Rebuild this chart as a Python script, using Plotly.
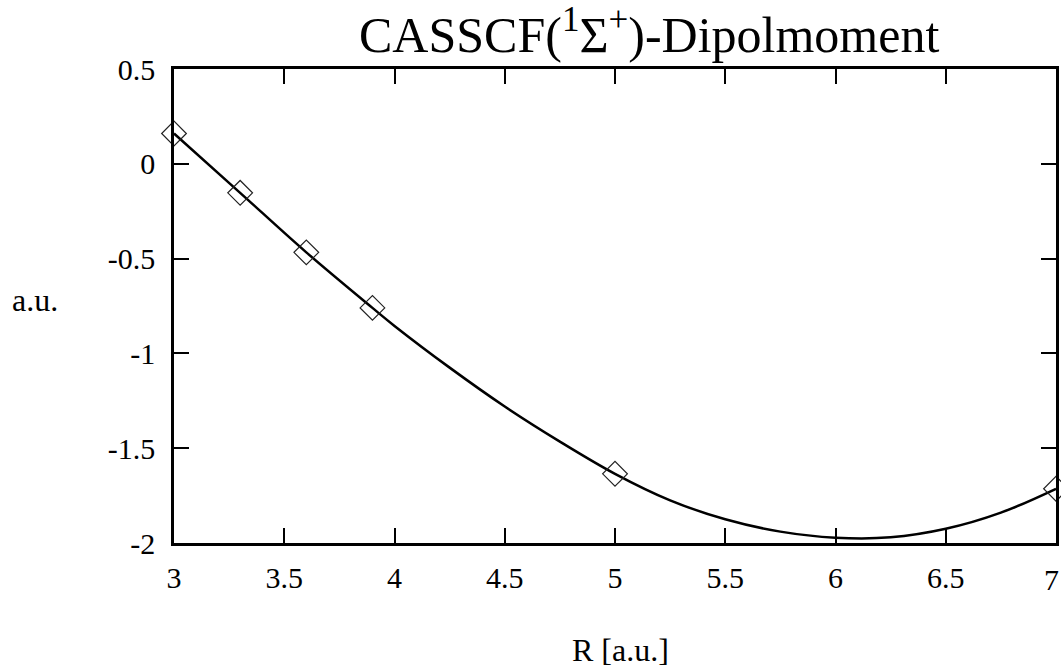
import plotly.graph_objects as go

# Data points (computed values)
r_points = [3.0, 3.3, 3.6, 3.9, 5.0, 7.0]
dip_points = [0.16, -0.153, -0.467, -0.76, -1.635, -1.714]

# Smooth fit curve
r_curve = [3.0, 3.3, 3.6, 3.9, 4.0, 4.25, 4.5, 4.75, 5.0, 5.25, 5.5, 5.75,
           6.0, 6.25, 6.5, 6.75, 7.0]
dip_curve = [0.16, -0.153, -0.467, -0.76, -0.855, -1.075, -1.28, -1.465, -1.635,
             -1.775, -1.875, -1.94, -1.972, -1.97, -1.925, -1.84, -1.714]

x_ticks = [3, 3.5, 4, 4.5, 5, 5.5, 6, 6.5, 7]
x_tick_text = ["3", "3.5", "4", "4.5", "5", "5.5", "6", "6.5", "7"]
y_ticks = [0.5, 0, -0.5, -1, -1.5, -2]
y_tick_text = ["0.5", "0", "-0.5", "-1", "-1.5", "-2"]

FONT = "Liberation Serif"

fig = go.Figure()
fig.add_trace(go.Scatter(
    x=r_curve, y=dip_curve, mode="lines",
    line=dict(color="black", width=2.5, shape="spline", smoothing=1.0),
    showlegend=False, hoverinfo="skip",
))
fig.add_trace(go.Scatter(
    x=r_points, y=dip_points, mode="markers",
    marker=dict(symbol="diamond-open", size=19, color="#222222",
                line=dict(width=1.2, color="#222222")),
    showlegend=False, cliponaxis=False,
))

axis_common = dict(
    showgrid=False, zeroline=False, showline=True, linecolor="black",
    linewidth=2.5, mirror="ticks", ticks="inside", ticklen=15, tickwidth=2,
    tickcolor="black", tickfont=dict(family=FONT, size=30, color="black"),
)

# all but the last x label through the axis; last one (at the page edge) as annotation
fig.update_xaxes(range=[3, 7], tickvals=x_ticks[:-1], ticktext=x_tick_text[:-1],
                 ticklabelstandoff=6, **axis_common)
fig.update_yaxes(range=[-2, 0.5], tickvals=y_ticks, ticktext=y_tick_text,
                 ticklabelstandoff=10, **axis_common)

annotations = [
    dict(text=x_tick_text[-1], xref="x", yref="paper", x=x_ticks[-1], y=0,
         xanchor="center", yanchor="top", yshift=-18, xshift=-5, showarrow=False,
         font=dict(family=FONT, size=30, color="black")),
    dict(text="CASSCF(<sup>1</sup>Σ<sup>+</sup>)-Dipolmoment",
         xref="paper", yref="paper", x=0.538, y=1.0, xanchor="center",
         yanchor="middle", yshift=38, showarrow=False,
         font=dict(family=FONT, size=50, color="black")),
    dict(text="a.u.", xref="paper", yref="paper", x=-0.186, y=0.513,
         xanchor="left", yanchor="middle", showarrow=False,
         font=dict(family=FONT, size=32, color="black")),
    dict(text="R [a.u.]", xref="paper", yref="paper", x=0.506, y=-0.225,
         xanchor="center", yanchor="middle", showarrow=False,
         font=dict(family=FONT, size=32, color="black")),
]

fig.update_layout(
    width=1061, height=670,
    margin=dict(l=174, r=2, t=69, b=127),
    paper_bgcolor="white", plot_bgcolor="white",
    font=dict(family=FONT, color="black"),
    annotations=annotations,
)

fig.write_html("out.html")
